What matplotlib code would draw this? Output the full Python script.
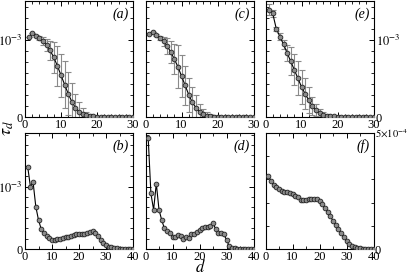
import numpy as np
import matplotlib
matplotlib.use("Agg")
import matplotlib.pyplot as plt
from matplotlib.ticker import MultipleLocator, FixedLocator, FixedFormatter

plt.rcParams['font.family'] = ['Liberation Serif', 'DejaVu Serif']
plt.rcParams['mathtext.fontset'] = 'stix'

# top row: d = 1..30, values in units of 1e-3
d_top = np.arange(1, 31)
tau_a = [1.03, 1.08, 1.05, 1.02, 0.98, 0.93, 0.86, 0.77, 0.66, 0.54,
         0.42, 0.30, 0.20, 0.12, 0.07, 0.04, 0.02, 0.012, 0.008, 0.006,
         0.005, 0.004, 0.004, 0.003, 0.003, 0.002, 0.002, 0.002, 0.001, 0.001]
err_a = [0.0, 0.0, 0.01, 0.03, 0.05, 0.08, 0.12, 0.20, 0.26, 0.28,
         0.30, 0.28, 0.24, 0.18, 0.12, 0.08, 0.05, 0.03, 0.02, 0.01,
         0.005, 0.0, 0.0, 0.0, 0.0, 0.0, 0.0, 0.0, 0.0, 0.0]
tau_c = [1.07, 1.10, 1.06, 1.02, 0.98, 0.92, 0.84, 0.75, 0.65, 0.53,
         0.41, 0.29, 0.19, 0.12, 0.07, 0.035, 0.015, 0.008, 0.006, 0.005,
         0.004, 0.004, 0.003, 0.003, 0.002, 0.002, 0.002, 0.002, 0.001, 0.001]
err_c = [0.0, 0.0, 0.01, 0.03, 0.06, 0.10, 0.14, 0.20, 0.28, 0.27,
         0.25, 0.22, 0.20, 0.16, 0.10, 0.07, 0.05, 0.03, 0.02, 0.01,
         0.005, 0.0, 0.0, 0.0, 0.0, 0.0, 0.0, 0.0, 0.0, 0.0]
tau_e = [1.39, 1.34, 1.14, 1.04, 0.94, 0.83, 0.72, 0.61, 0.50, 0.39,
         0.30, 0.22, 0.14, 0.087, 0.05, 0.03, 0.015, 0.01, 0.008, 0.006,
         0.005, 0.004, 0.004, 0.003, 0.003, 0.002, 0.002, 0.002, 0.001, 0.001]
err_e = [0.07, 0.05, 0.03, 0.04, 0.06, 0.10, 0.18, 0.20, 0.22, 0.22,
         0.20, 0.17, 0.12, 0.08, 0.05, 0.03, 0.02, 0.01, 0.01, 0.005,
         0.0, 0.0, 0.0, 0.0, 0.0, 0.0, 0.0, 0.0, 0.0, 0.0]

# bottom row: d = 1..40
d_bot = np.arange(1, 41)
tau_b = [1.32, 1.00, 1.07, 0.68, 0.465, 0.32, 0.25, 0.21, 0.17, 0.145,
         0.145, 0.155, 0.165, 0.18, 0.20, 0.20, 0.21, 0.22, 0.235, 0.24,
         0.24, 0.235, 0.25, 0.28, 0.29, 0.26, 0.21, 0.145, 0.09, 0.06,
         0.04, 0.027, 0.018, 0.012, 0.008, 0.005, 0.004, 0.003, 0.002, 0.002]
tau_d = [1.78, 0.89, 0.63, 1.05, 0.63, 0.465, 0.33, 0.29, 0.25, 0.20,
         0.19, 0.22, 0.21, 0.165, 0.20, 0.18, 0.24, 0.24, 0.28, 0.305,
         0.33, 0.35, 0.36, 0.37, 0.42, 0.315, 0.26, 0.25, 0.24, 0.145,
         0.05, 0.02, 0.01, 0.008, 0.006, 0.005, 0.004, 0.003, 0.003, 0.002]
# (f) in units of 1e-4
tau_f = [3.16, 2.95, 2.76, 2.66, 2.57, 2.51, 2.47, 2.44, 2.41, 2.37,
         2.30, 2.23, 2.13, 2.11, 2.13, 2.14, 2.14, 2.16, 2.16, 2.08,
         1.94, 1.75, 1.58, 1.41, 1.22, 1.03, 0.86, 0.68, 0.50, 0.34,
         0.20, 0.11, 0.07, 0.04, 0.03, 0.02, 0.015, 0.01, 0.01, 0.01]

W, H = 407, 275
fig = plt.figure(figsize=(W / 100, H / 100), dpi=100)

def box(x0, ytop, w=108, h=116):
    return [x0 / W, 1 - (ytop + h) / H, w / W, h / H]

lefts = [25, 145.5, 265.5]
mk = dict(marker='o', ms=3.4, mfc='#8c8c8c', mec='#222222', mew=0.6,
          color='black', lw=0.8, zorder=3)

def style(ax, xmax, xminor):
    ax.set_xlim(0, xmax)
    ax.xaxis.set_minor_locator(MultipleLocator(xminor))
    ax.tick_params(which='both', direction='in', top=True, right=True,
                   labelsize=9, pad=1.5)
    ax.tick_params(which='major', length=3.5, width=0.7)
    ax.tick_params(which='minor', length=2, width=0.6)
    for s in ax.spines.values():
        s.set_linewidth(0.8)

top_data = [(tau_a, err_a, '(a)'), (tau_c, err_c, '(c)'), (tau_e, err_e, '(e)')]
for i, (vals, errs, lab) in enumerate(top_data):
    ax = fig.add_axes(box(lefts[i], 1))
    y = np.array(vals) * 1e-3
    e = np.array(errs) * 1e-3
    ax.errorbar(d_top, y, yerr=e, fmt='none', ecolor='#8a8a8a', elinewidth=0.8,
                capsize=2, capthick=0.8, zorder=2)
    ax.plot(d_top, y, **mk)
    style(ax, 30, 2)
    ax.set_ylim(0, 1.5e-3)
    ax.yaxis.set_major_locator(FixedLocator([0, 1e-3]))
    ax.yaxis.set_major_formatter(FixedFormatter(['0', r'$10^{-3}$']))
    ax.yaxis.set_minor_locator(MultipleLocator(1e-3 / 7))
    ax.xaxis.set_major_locator(FixedLocator([0, 10, 20, 30]))
    ax.xaxis.set_major_formatter(FixedFormatter(['0', '10', '20', '30']))
    if i == 1:
        ax.tick_params(axis='y', labelleft=False)
    if i == 2:
        ax.tick_params(axis='y', labelleft=False, labelright=True)
    ax.text(0.965, 0.89, lab, transform=ax.transAxes, ha='right', va='center',
            fontsize=10, style='italic')

bot_data = [(tau_b, '(b)'), (tau_d, '(d)'), (tau_f, '(f)')]
for i, (vals, lab) in enumerate(bot_data):
    ax = fig.add_axes(box(lefts[i], 133))
    style(ax, 40, 5)
    ax.xaxis.set_major_locator(FixedLocator([0, 10, 20, 30, 40]))
    ax.xaxis.set_major_formatter(FixedFormatter(['0', '10', '20', '30', '40']))
    if i < 2:
        y = np.array(vals) * 1e-3
        ax.set_ylim(0, 1.86e-3)
        ax.yaxis.set_major_locator(FixedLocator([0, 1e-3]))
        ax.yaxis.set_major_formatter(FixedFormatter(['0', r'$10^{-3}$']))
        ax.yaxis.set_minor_locator(MultipleLocator(1e-3 / 6))
        if i == 1:
            ax.tick_params(axis='y', labelleft=False)
    else:
        y = np.array(vals) * 1e-4
        ax.set_ylim(0, 5e-4)
        ax.yaxis.set_major_locator(FixedLocator([0, 5e-4]))
        ax.yaxis.set_major_formatter(FixedFormatter(['0', r'$5{\times}10^{-4}$']))
        ax.yaxis.set_minor_locator(MultipleLocator(1e-4))
        ax.tick_params(axis='y', labelleft=False, labelright=True, pad=1)
        ax.get_yticklabels()[1].set_fontsize(7.5)
    ax.plot(d_bot, y, **mk)
    ax.text(0.965, 0.89, lab, transform=ax.transAxes, ha='right', va='center',
            fontsize=10, style='italic')

fig.text(200 / W, 1 - 268 / H, r'$d$', fontsize=12, ha='center', va='center')
fig.text(8 / W, 1 - 128 / H, r'$\tau_d$', fontsize=13, rotation=90,
         ha='center', va='center')

fig.savefig('out.png', dpi=100)
